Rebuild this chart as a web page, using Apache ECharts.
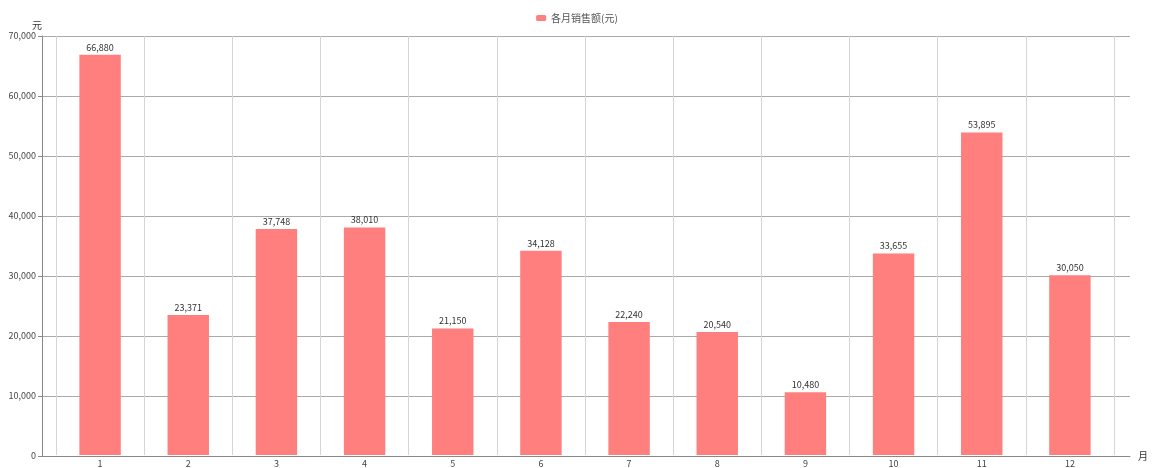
<html>
<head>
    <meta charset="utf-8">
    <title>各月销售额</title>
    <script src="https://cdn.jsdelivr.net/npm/echarts@6/dist/echarts.min.js"></script>
    <style>
        html, body { margin: 0; padding: 0; background: #fff; }
        #main { width: 1154px; height: 468px; }
    </style>
</head>
<body>
    <div id='main'></div>
    <script>
        // 数据
        var MONTHS = ['1', '2', '3', '4', '5', '6', '7', '8', '9', '10', '11', '12']
        var SALES = [66880, 23371, 37748, 38010, 21150, 34128, 22240, 20540, 10480, 33655, 53895, 30050]
        var SERIES_NAME = '各月销售额(元)'
        var FONT = '"Noto Sans CJK SC", "DejaVu Sans", sans-serif'

        var chart = echarts.init(document.getElementById('main'), null, { renderer: 'canvas' })
        var options = {
            backgroundColor: '#fff',
            animation: false,
            textStyle: { fontFamily: FONT },
            legend: {
                top: 8,
                left: 'center',
                itemWidth: 10,
                itemHeight: 6,
                icon: 'roundRect',
                textStyle: { fontSize: 10, color: '#555' },
                data: [SERIES_NAME]
            },
            grid: [
                // 外框：y轴、横向网格线
                { left: 42, right: 24, top: 36, bottom: 12 },
                // 柱子区域
                { left: 56, right: 40, top: 36, bottom: 12 }
            ],
            xAxis: [
                {
                    gridIndex: 0,
                    type: 'value',
                    min: 0, max: 1,
                    name: '月',
                    nameLocation: 'end',
                    nameGap: 8,
                    nameTextStyle: { fontSize: 10, color: '#333' },
                    axisLine: { show: true, lineStyle: { color: '#888' } },
                    axisTick: { show: false },
                    axisLabel: { show: false },
                    splitLine: { show: false }
                },
                {
                    gridIndex: 1,
                    type: 'category',
                    data: MONTHS,
                    axisLine: { show: false },
                    axisTick: { show: false },
                    axisLabel: { fontSize: 9, color: '#444', margin: 4 },
                    splitLine: { show: true, lineStyle: { color: '#d4d4d4' } }
                }
            ],
            yAxis: [
                {
                    gridIndex: 0,
                    type: 'value',
                    min: 0, max: 70000, interval: 10000,
                    name: '元',
                    nameGap: 6,
                    nameTextStyle: { fontSize: 10, color: '#333', align: 'right' },
                    axisLine: { show: true, lineStyle: { color: '#888' } },
                    axisTick: { show: true, length: 4, lineStyle: { color: '#888' } },
                    axisLabel: { fontSize: 9, color: '#444', margin: 6 },
                    splitLine: { show: true, lineStyle: { color: '#aaa' } }
                },
                {
                    gridIndex: 1,
                    type: 'value',
                    min: 0, max: 70000, interval: 10000,
                    show: false,
                    splitLine: { show: false }
                }
            ],
            series: [{
                name: SERIES_NAME,
                type: 'bar',
                xAxisIndex: 1,
                yAxisIndex: 1,
                data: SALES,
                barWidth: '47%',
                itemStyle: { color: '#ff7f7f' },
                label: {
                    show: true,
                    position: 'top',
                    distance: 3,
                    fontSize: 9,
                    color: '#333',
                    formatter: p => p.value.toLocaleString('en-US')
                }
            }]
        }
        chart.setOption(options)
    </script>
</body>
</html>
